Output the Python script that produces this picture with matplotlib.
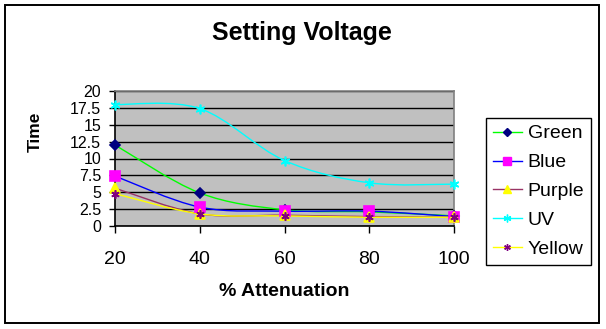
import numpy as np
import matplotlib
matplotlib.use("Agg")
import matplotlib.pyplot as plt
from matplotlib.path import Path
from matplotlib.patches import PathPatch, Rectangle
from matplotlib.lines import Line2D

plt.rcParams['font.family'] = ['Liberation Sans', 'DejaVu Sans']

# data
attenuation = [20, 40, 60, 80, 100]
green = [12.0, 4.9, 2.4, 2.1, 1.5]
blue = [7.4, 2.8, 2.2, 2.2, 1.4]
purple = [5.6, 1.8, 1.6, 1.4, 1.3]
uv = [18.0, 17.4, 9.7, 6.4, 6.2]
yellow = [4.8, 1.8, 1.5, 1.3, 1.3]

series_names = ['Green', 'Blue', 'Purple', 'UV', 'Yellow']
series_values = [green, blue, purple, uv, yellow]
y_ticks = [0, 2.5, 5, 7.5, 10, 12.5, 15, 17.5, 20]
x_ticks = [20, 40, 60, 80, 100]

# (line colour, marker, marker face, marker edge, marker size)
styles = [
    ('#00FF00', 'D', '#000080', '#000080', 5.5),
    ('#0000FF', 's', '#FF00FF', '#FF00FF', 6.5),
    ('#993366', '^', '#FFFF00', '#FFFF00', 7),
    ('#00FFFF', (6, 2, 0), '#00FFFF', '#00FFFF', 7),
    ('#FFFF00', (6, 2, 0), '#800080', '#800080', 6),
]


def smooth_path(xs, ys):
    # Excel-style smoothed line: Catmull-Rom segments as cubic beziers
    pts = np.column_stack([xs, ys]).astype(float)
    ext = np.vstack([pts[0], pts, pts[-1]])
    verts = [pts[0]]
    codes = [Path.MOVETO]
    for i in range(len(pts) - 1):
        p0, p1, p2, p3 = ext[i], ext[i + 1], ext[i + 2], ext[i + 3]
        verts += [p1 + (p2 - p0) / 6.0, p2 - (p3 - p1) / 6.0, p2]
        codes += [Path.CURVE4] * 3
    return Path(verts, codes)


W, H = 606, 329
fig = plt.figure(figsize=(W / 100, H / 100), dpi=100)
fig.patch.set_facecolor('white')

# outer chart border
fig.add_artist(Rectangle((5 / W, 1 - 323 / H), 594 / W, 318 / H,
                         transform=fig.transFigure, fill=False,
                         edgecolor='black', linewidth=1.4))

ax = fig.add_axes([115 / W, 1 - 226 / H, 339 / W, 135 / H])
ax.set_facecolor('#C0C0C0')
ax.set_xlim(20, 100)
ax.set_ylim(0, 20)
ax.set_xticks(x_ticks)
ax.set_yticks(y_ticks)
ax.set_yticklabels([f'{v:g}' for v in y_ticks])
ax.yaxis.grid(True, color='black', linewidth=1.0)
ax.set_axisbelow(True)
for s in ['top', 'right']:
    ax.spines[s].set_color('#808080')
    ax.spines[s].set_linewidth(1.2)
for s in ['left', 'bottom']:
    ax.spines[s].set_color('black')
    ax.spines[s].set_linewidth(1.2)
ax.tick_params(axis='x', direction='out', length=5, width=1, labelsize=14, pad=13)
ax.tick_params(axis='y', direction='out', length=4, width=1, labelsize=11.5, pad=6)

handles = []
for name, vals, (lc, mk, mf, me, ms) in zip(series_names, series_values, styles):
    ax.add_patch(PathPatch(smooth_path(attenuation, vals), fill=False,
                           edgecolor=lc, linewidth=1.0, zorder=3))
    ax.plot(attenuation, vals, linestyle='none', marker=mk, markerfacecolor=mf,
            markeredgecolor=me, markersize=ms, markeredgewidth=1.2, zorder=4,
            clip_on=False)
    handles.append(Line2D([], [], color=lc, linewidth=1.0, marker=mk,
                          markerfacecolor=mf, markeredgecolor=me,
                          markersize=ms * 0.8, markeredgewidth=1.0))

fig.text(302 / W, 1 - 33 / H, 'Setting Voltage', ha='center', va='center',
         fontsize=18, fontweight='bold')
fig.text(284 / W, 1 - 291 / H, '% Attenuation', ha='center', va='center',
         fontsize=14, fontweight='bold')
fig.text(35 / W, 1 - 132 / H, 'Time', ha='center', va='center',
         fontsize=12.5, fontweight='bold', rotation=90)

leg = fig.legend(handles, series_names, loc='upper left',
                 bbox_to_anchor=(486 / W, 1 - 118 / H), fontsize=14,
                 frameon=True, fancybox=False, framealpha=1, edgecolor='black',
                 borderaxespad=0, borderpad=0.35, handlelength=1.5,
                 handletextpad=0.3, labelspacing=0.58)
leg.get_frame().set_linewidth(1.0)

fig.savefig('out.png', dpi=100)
